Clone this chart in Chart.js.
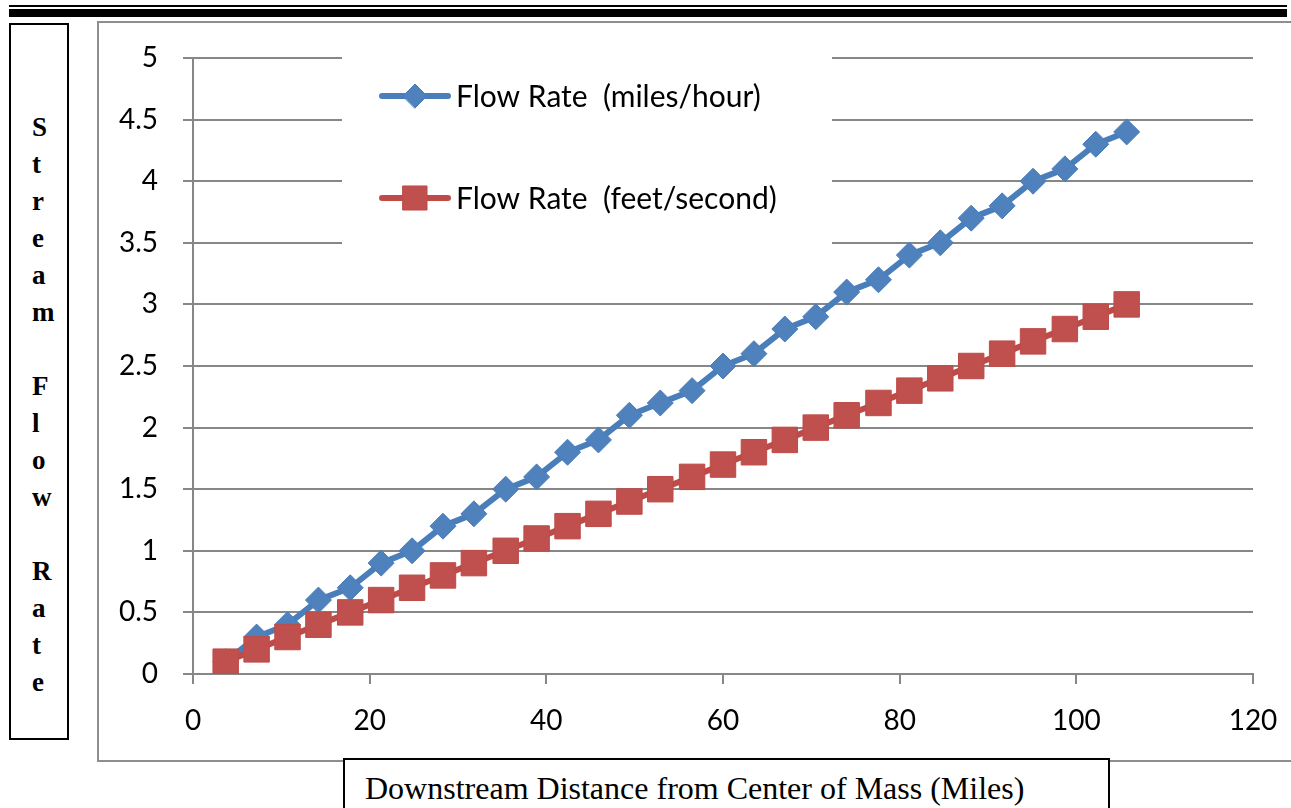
<!DOCTYPE html>
<html>
<head>
<meta charset="utf-8">
<title>Stream Flow Rate</title>
<script src="https://cdn.jsdelivr.net/npm/chart.js@4"></script>
<style>
    html, body { margin: 0; padding: 0; background: #fff; }
    body { width: 1291px; height: 808px; position: relative; overflow: hidden; }
    .rule-thin { position: absolute; left: 9px; top: 5px; width: 1278px; height: 2px; background: #000; }
    .rule-thick { position: absolute; left: 9px; top: 9px; width: 1278px; height: 8px; background: #000; }
    .frame {
        position: absolute; left: 97px; top: 21px; width: 1220px; height: 741px;
        border: 2px solid #8e8e8e; box-sizing: border-box;
    }
    .y-title {
        position: absolute; left: 9px; top: 23px; width: 60px; height: 717px;
        border: 2px solid #000; box-sizing: border-box; background: #fff;
        font: bold 27px "Liberation Serif", "Times New Roman", serif;
        line-height: 37px; padding: 84px 0 0 21px;
    }
    .y-title div { height: 37px; }
    .x-title {
        position: absolute; left: 343px; top: 758px; width: 767px; height: 80px;
        border: 2px solid #000; box-sizing: border-box; background: #fff; z-index: 2;
        font: 32px "Liberation Serif", "Times New Roman", serif;
        padding: 10px 0 0 20px; white-space: nowrap;
    }
    canvas { position: absolute; left: 0; top: 0; z-index: 1; }
</style>
</head>
<body>
<div class="rule-thin"></div>
<div class="rule-thick"></div>
<div class="frame"></div>
<div class="y-title" id="y-title"></div>
<div class="x-title">Downstream Distance from Center of Mass (Miles)</div>
<canvas id="flow-chart" width="1291" height="808"></canvas>

<script>
    // Values
    const distanceMiles = [3.7, 7.2, 10.7, 14.2, 17.8, 21.3, 24.8, 28.3, 31.8, 35.4,
        38.9, 42.4, 45.9, 49.4, 52.9, 56.5, 60.0, 63.5, 67.0, 70.5,
        74.0, 77.6, 81.1, 84.6, 88.1, 91.6, 95.1, 98.7, 102.2, 105.7];
    const flowMilesPerHour = [0.1, 0.3, 0.4, 0.6, 0.7, 0.9, 1.0, 1.2, 1.3, 1.5,
        1.6, 1.8, 1.9, 2.1, 2.2, 2.3, 2.5, 2.6, 2.8, 2.9,
        3.1, 3.2, 3.4, 3.5, 3.7, 3.8, 4.0, 4.1, 4.3, 4.4];
    const flowFeetPerSecond = [0.1, 0.2, 0.3, 0.4, 0.5, 0.6, 0.7, 0.8, 0.9, 1.0,
        1.1, 1.2, 1.3, 1.4, 1.5, 1.6, 1.7, 1.8, 1.9, 2.0,
        2.1, 2.2, 2.3, 2.4, 2.5, 2.6, 2.7, 2.8, 2.9, 3.0];
    const seriesLabels = ['Flow Rate  (miles/hour)', 'Flow Rate  (feet/second)'];
    const yTitleLines = ['S', 't', 'r', 'e', 'a', 'm', '', 'F', 'l', 'o', 'w', '', 'R', 'a', 't', 'e'];

    // Stacked letters for the vertical axis title
    const yTitle = document.getElementById('y-title');
    yTitleLines.forEach(ch => {
        const line = document.createElement('div');
        line.textContent = ch || '\u00a0';
        yTitle.appendChild(line);
    });

    const BLUE = '#4a7ebb';
    const RED = '#c0504d';
    const GRID = '#878787';
    const FONT = 'Lato, "Open Sans", sans-serif';

    const toPoints = ys => ys.map((y, i) => ({ x: distanceMiles[i], y: y }));

    // Legend drawn inside the plot on a white box, like the original
    const insideLegend = {
        id: 'insideLegend',
        beforeDatasetsDraw(chart) {
            const ctx = chart.ctx;
            const area = chart.chartArea;
            const left = area.left + 149;
            ctx.save();
            ctx.fillStyle = '#fff';
            ctx.fillRect(left, area.top - 8, 490, 222);
            chart.data.datasets.forEach((ds, i) => {
                const y = area.top + 38 + i * 102;
                ctx.strokeStyle = ds.borderColor;
                ctx.lineWidth = 6;
                ctx.lineCap = 'round';
                ctx.beginPath();
                ctx.moveTo(left + 40, y);
                ctx.lineTo(left + 106, y);
                ctx.stroke();
                ctx.fillStyle = ds.pointBackgroundColor;
                ctx.strokeStyle = ds.pointBorderColor;
                ctx.lineWidth = 1;
                Chart.helpers.drawPoint(ctx, {
                    pointStyle: ds.pointStyle,
                    radius: ds.pointRadius - 1,
                    borderWidth: 1
                }, left + 73, y);
                ctx.fillStyle = '#000';
                ctx.font = '30px ' + FONT;
                ctx.textBaseline = 'middle';
                ctx.fillText(ds.label, left + 114, y + 1);
            });
            ctx.restore();
        }
    };

    new Chart(document.getElementById('flow-chart'), {
        type: 'line',
        data: {
            datasets: [
                {
                    label: seriesLabels[0],
                    data: toPoints(flowMilesPerHour),
                    borderColor: BLUE,
                    borderWidth: 6,
                    pointStyle: 'rectRot',
                    pointRadius: 13,
                    pointBackgroundColor: '#4f81bd',
                    pointBorderColor: BLUE,
                    pointBorderWidth: 1,
                    borderJoinStyle: 'round',
                    tension: 0,
                    order: 2
                },
                {
                    label: seriesLabels[1],
                    data: toPoints(flowFeetPerSecond),
                    borderColor: '#be4b48',
                    borderWidth: 6,
                    pointStyle: 'rect',
                    pointRadius: 18,
                    pointBackgroundColor: RED,
                    pointBorderColor: '#be4b48',
                    pointBorderWidth: 1,
                    borderJoinStyle: 'round',
                    tension: 0,
                    order: 1
                }
            ]
        },
        options: {
            responsive: false,
            animation: false,
            events: [],
            layout: { padding: { left: 100, top: 58, right: 38, bottom: 74 } },
            plugins: {
                legend: { display: false },
                tooltip: { enabled: false }
            },
            scales: {
                x: {
                    type: 'linear',
                    min: 0,
                    max: 120,
                    ticks: { stepSize: 20, color: '#000', padding: 20, maxRotation: 0,
                        font: { family: FONT, size: 28 } },
                    grid: { drawOnChartArea: false, tickLength: 10, color: GRID, lineWidth: 2 },
                    border: { color: GRID, width: 2 },
                    afterFit(scale) {
                        scale.height = 60;
                        // let the fixed layout padding decide the plot edges
                        scale.paddingLeft = 0;
                        scale.paddingRight = 0;
                    }
                },
                y: {
                    min: 0,
                    max: 5,
                    ticks: { stepSize: 0.5, color: '#000', padding: 25,
                        font: { family: FONT, size: 28 },
                        callback: value => String(Number(value.toFixed(1))) },
                    grid: { tickLength: 10, color: GRID, lineWidth: 2 },
                    border: { color: GRID, width: 2 },
                    afterFit(scale) {
                        scale.width = 93;
                        scale.paddingTop = 0;
                        scale.paddingBottom = 0;
                    }
                }
            }
        },
        plugins: [insideLegend]
    });
</script>
</body>
</html>
